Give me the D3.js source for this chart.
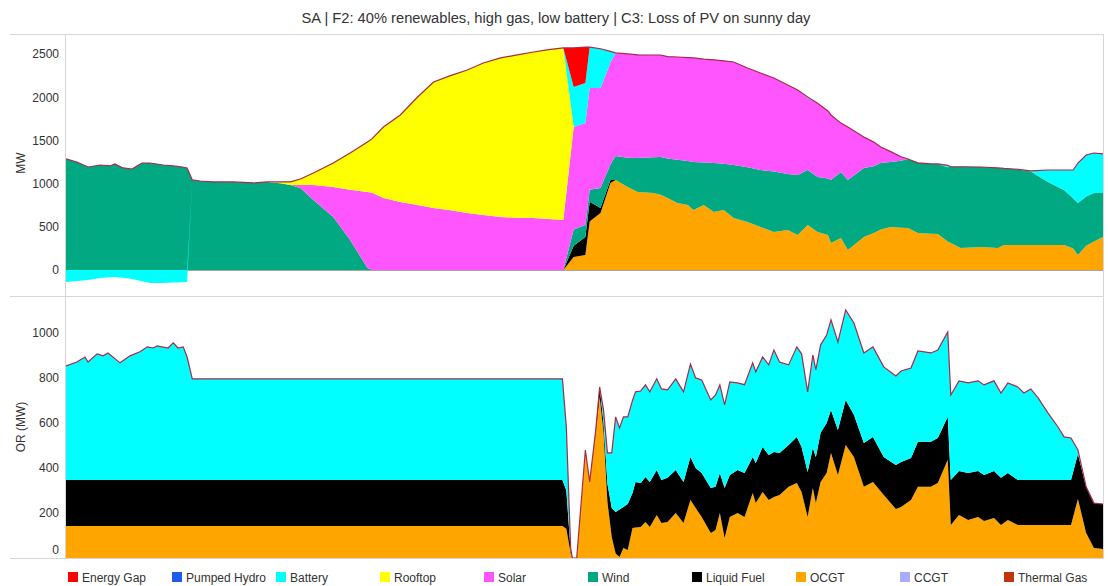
<!DOCTYPE html>
<html>
<head>
<meta charset="utf-8">
<script src="https://cdn.jsdelivr.net/npm/d3@7"></script>
<style>
  body { margin: 0; background: #fff; }
  text { font-family: Arial, "Liberation Sans", sans-serif; fill: #333; }
</style>
</head>
<body>
<svg id="chart" width="1108" height="586"></svg>
<script>
/************************************ Data *******************************/
// top panel : generation (MW), hours of the day
var hoursTop   = [0.00,0.25,0.51,0.79,1.02,1.13,1.32,1.53,1.64,1.76,1.94,2.25,2.48,2.69,2.80,2.92,3.10,3.40,3.87,4.33,4.65,4.95,5.19,5.42,5.72,6.18,6.57,6.97,7.08,7.34,7.73,8.13,8.50,8.89,9.28,9.65,10.05,10.44,10.81,11.16,11.50,11.74,12.01,12.11,12.36,12.59,12.71,12.99,13.22,13.59,13.75,13.91,14.14,14.38,14.51,14.75,14.98,15.21,15.44,15.76,16.06,16.37,16.69,16.92,17.15,17.38,17.62,17.69,17.92,18.08,18.45,18.68,18.84,19.07,19.31,19.47,19.70,20.00,20.16,20.39,20.46,20.69,21.16,21.55,21.69,21.92,22.31,22.71,23.08,23.29,23.40,23.59,23.77,23.98];
var ocgtTop    = [0,0,0,0,0,0,0,0,0,0,0,0,0,0,0,0,0,0,0,0,0,0,0,0,0,0,0,0,0,0,0,0,0,0,0,0,0,0,0,0,0,150,174,560,660,1007,1042,961,903,891,870,833,775,752,694,752,671,694,602,556,498,440,463,405,521,440,405,312,370,231,382,428,470,498,490,486,428,420,416,330,312,255,266,255,289,289,289,289,289,250,174,280,330,382];
var liquidTop  = [0,0,0,0,0,0,0,0,0,0,0,0,0,0,0,0,0,0,0,0,0,0,0,0,0,0,0,0,0,0,0,0,0,0,0,0,0,0,0,0,0,130,208,230,58,35,0,0,0,0,0,0,0,0,0,0,0,0,0,0,0,0,0,0,0,0,0,0,0,0,0,0,0,0,0,0,0,0,0,0,0,0,0,0,0,0,0,0,0,0,0,0,0,0];
var windTop    = [1285,1250,1192,1215,1204,1227,1181,1169,1204,1238,1238,1215,1204,1192,1181,1042,1030,1019,1019,1007,1019,1005,984,950,810,613,347,23,0,0,0,0,0,0,0,0,0,0,0,0,0,190,139,140,231,178,277,339,393,414,438,457,500,510,556,493,567,536,613,634,659,700,647,695,636,636,655,730,764,811,799,772,768,752,775,799,812,807,811,860,883,940,926,926,886,880,851,730,637,580,601,570,560,509];
var solarTop   = [0,0,0,0,0,0,0,0,0,0,0,0,0,0,0,0,0,0,0,0,0,0,0,34,174,347,583,880,895,833,787,752,718,690,660,635,613,605,602,590,579,1185,1179,1176,1157,1180,1193,1200,1194,1183,1180,1180,1190,1196,1204,1195,1194,1190,1192,1148,1123,1082,1030,983,830,854,780,752,566,613,358,280,186,120,45,0,0,0,0,0,0,0,0,0,0,0,0,0,0,0,0,0,0,0];
var rooftopTop = [0,0,0,0,0,0,0,0,0,0,0,0,0,0,0,0,0,0,0,0,0,14,36,69,139,278,424,578,625,822,1007,1250,1458,1560,1655,1761,1841,1885,1921,1960,1991,0,0,0,0,0,0,0,0,0,0,0,0,0,0,0,0,0,0,0,0,0,0,0,0,0,0,0,0,0,0,0,0,0,0,0,0,0,0,0,0,0,0,0,0,0,0,0,0,0,0,0,0,0];
var batteryTop = [-139,-128,-116,-93,-85,-81,-90,-104,-115,-130,-150,-150,-145,-142,-139,0,0,0,0,0,0,0,0,0,0,0,0,0,0,0,0,0,0,0,0,0,0,0,0,0,0,463,464,474,454,130,0,0,0,0,0,0,0,0,0,0,0,0,0,0,0,0,0,0,15,0,0,0,0,0,0,0,0,0,0,0,0,0,0,20,0,0,0,0,0,0,6,138,231,327,463,481,464,452];
var gapTop     = [0,0,0,0,0,0,0,0,0,0,0,0,0,0,0,0,0,0,0,0,0,0,0,0,0,0,0,0,0,0,0,0,0,0,0,0,0,0,0,0,0,452,416,0,0,0,0,0,0,0,0,0,0,0,0,0,0,0,0,0,0,0,0,0,0,0,0,0,0,0,0,0,0,0,0,0,0,0,0,0,0,0,0,0,0,0,0,0,0,0,0,0,0,0];

// bottom panel : operating reserve (MW)
var hoursOR   = [0.00,0.25,0.44,0.51,0.72,0.86,0.97,1.25,1.48,1.71,1.88,2.01,2.11,2.36,2.48,2.59,2.71,2.80,2.92,11.48,11.57,11.67,11.71,11.81,12.01,12.11,12.25,12.34,12.43,12.52,12.62,12.71,12.80,12.89,12.99,13.10,13.17,13.29,13.40,13.50,13.66,13.77,13.91,14.10,14.28,14.44,14.56,14.70,14.91,15.02,15.12,15.23,15.35,15.53,15.69,15.88,15.95,16.11,16.25,16.37,16.50,16.71,16.90,17.01,17.15,17.27,17.34,17.45,17.59,17.69,17.85,18.03,18.22,18.45,18.66,18.91,19.19,19.31,19.54,19.70,20.00,20.16,20.39,20.46,20.65,20.86,21.09,21.23,21.46,21.62,21.78,22.01,22.15,22.31,22.48,22.71,22.94,23.08,23.24,23.40,23.59,23.77,23.98];
var ocgtOR    = [142,142,142,142,142,142,142,142,142,142,142,142,142,142,142,142,142,142,142,142,130,20,0,0,480,338,560,716,560,250,93,20,4,44,36,133,135,138,160,138,191,156,160,200,156,258,222,182,111,124,200,89,182,200,182,289,244,293,258,271,280,316,333,293,182,311,244,338,378,467,369,502,449,316,338,280,218,227,258,316,316,333,436,147,191,169,182,164,178,147,169,147,147,147,147,147,147,147,147,262,111,44,40];
var liquidOR  = [205,205,205,205,205,205,205,205,205,205,205,205,205,205,205,205,205,205,205,205,170,10,0,0,0,0,9,44,40,80,129,184,211,183,204,156,203,195,200,200,200,191,196,191,182,191,178,196,200,192,178,222,187,191,196,160,178,200,200,200,187,186,205,200,200,178,205,218,222,191,200,200,187,195,200,169,195,200,186,200,200,200,191,200,196,209,205,205,209,209,209,200,200,200,200,200,200,200,200,200,205,200,200];
var batteryOR = [506,524,546,524,560,551,564,520,551,569,591,586,595,586,609,586,591,546,449,449,282,14,0,0,0,0,0,0,58,137,245,423,363,400,387,411,400,409,409,400,405,404,391,405,400,413,400,413,391,408,391,369,413,387,392,418,405,400,400,453,404,356,400,414,356,413,387,391,391,400,391,400,408,400,400,400,396,404,400,404,395,391,377,377,400,400,400,400,400,377,400,413,386,404,364,297,235,191,186,18,0,0,0];

var legendNames  = ["Energy Gap","Pumped Hydro","Battery","Rooftop","Solar","Wind","Liquid Fuel","OCGT","CCGT","Thermal Gas"];
var legendColors = ["#ff0000","#1f5bf0","#00ffff","#ffff00","#ff55ff","#00a982","#000000","#ffa500","#aaaaff","#c0360c"];

var tickTop = [0,500,1000,1500,2000,2500];
var tickOR  = [0,200,400,600,800,1000];

/************************************ Helpers *******************************/
// stacking : positives upward, negatives downward, zeros sit on the positive top
function offsetStackTop(series, order) {
	var n = series.length, m = series[order[0]].length;
	for (var j = 0; j < m; ++j) {
		var yp = 0, yn = 0;
		for (var i = 0; i < n; ++i) {
			var d = series[order[i]][j], dy = d[1] - d[0];
			if (dy > 0) { d[0] = yp; d[1] = yp += dy; }
			else if (dy < 0) { d[1] = yn; d[0] = yn += dy; }
			else { d[0] = yp; d[1] = yp; }
		}
	}
}

var colorOf = {};
legendNames.forEach(function(n, i) { colorOf[n] = legendColors[i]; });

var svg = d3.select("#chart");
var x = d3.scaleLinear().domain([0, 23.98]).range([66, 1103]);

function drawPanel(rows, keys, y, ticks, clipId, yTop, yBot, label) {
	svg.append("clipPath").attr("id", clipId)
		.append("rect").attr("x", 66).attr("y", yTop).attr("width", 1037).attr("height", yBot - yTop);

	var stack = d3.stack().keys(keys).order(d3.stackOrderNone).offset(offsetStackTop);
	var layers = stack(rows);

	var area = d3.area()
		.x(function(d) { return x(d.data.h); })
		.y0(function(d) { return y(d[0]); })
		.y1(function(d) { return y(d[1]); });

	var g = svg.append("g").attr("clip-path", "url(#" + clipId + ")");
	g.selectAll("path.layer").data(layers).enter().append("path")
		.attr("class", "layer")
		.attr("d", area)
		.attr("fill", function(d) { return colorOf[d.key]; });

	// total line (sum of the positive parts)
	var line = d3.line()
		.x(function(d) { return x(d.h); })
		.y(function(d) {
			var s = 0;
			keys.forEach(function(k) { if (d[k] > 0) s += d[k]; });
			return y(s);
		});
	g.append("path").datum(rows)
		.attr("d", line)
		.attr("fill", "none")
		.attr("stroke", "#a8294a")
		.attr("stroke-width", 1.2);

	var axis = svg.append("g").attr("transform", "translate(66,0)")
		.call(d3.axisLeft(y).tickValues(ticks).tickSize(0).tickPadding(7).tickFormat(d3.format("d")));
	axis.select(".domain").remove();
	axis.selectAll("text").attr("font-size", 12).attr("fill", "#333")
		.style("font-family", "Arial, 'Liberation Sans', sans-serif");

	svg.append("text")
		.attr("transform", "translate(25," + label.y + ") rotate(-90)")
		.attr("text-anchor", "middle")
		.attr("font-size", 12)
		.text(label.text);
	return axis;
}

/************************************ Frame *******************************/
[34, 296, 558].forEach(function(yy) {
	svg.append("line").attr("x1", 10).attr("x2", 1104).attr("y1", yy + 0.5).attr("y2", yy + 0.5)
		.attr("stroke", "#d6d6d6");
});
[66, 1104].forEach(function(xx) {
	svg.append("line").attr("x1", xx - 0.5).attr("x2", xx - 0.5).attr("y1", 34).attr("y2", 558)
		.attr("stroke", "#d6d6d6");
});

/************************************ Panels *******************************/
var rowsTop = hoursTop.map(function(h, i) {
	return { h: h, "OCGT": ocgtTop[i], "Liquid Fuel": liquidTop[i], "Wind": windTop[i],
		"Solar": solarTop[i], "Rooftop": rooftopTop[i], "Battery": batteryTop[i], "Energy Gap": gapTop[i] };
});
var rowsOR = hoursOR.map(function(h, i) {
	return { h: h, "OCGT": ocgtOR[i], "Liquid Fuel": liquidOR[i], "Battery": batteryOR[i] };
});

var yTop = d3.scaleLinear().domain([-301, 2731]).range([296, 34]);
var yOR  = d3.scaleLinear().domain([0, 1164]).range([558, 296]);

// zero line in top panel
svg.append("line").attr("x1", 66).attr("x2", 1103).attr("y1", yTop(0)).attr("y2", yTop(0))
	.attr("stroke", "#444").attr("stroke-width", 1);

drawPanel(rowsTop, ["OCGT","Liquid Fuel","Wind","Solar","Rooftop","Battery","Energy Gap"],
	yTop, tickTop, "clipTop", 34, 296, { text: "MW", y: 163 });
var axOR = drawPanel(rowsOR, ["OCGT","Liquid Fuel","Battery"],
	yOR, tickOR, "clipOR", 296, 558, { text: "OR (MW)", y: 427 });
// baseline label is lifted inside the plot
axOR.selectAll(".tick").filter(function(d) { return d === 0; })
	.attr("transform", "translate(0," + (yOR(0) - 8) + ")");

/************************************ Title & legend *******************************/
svg.append("text")
	.attr("x", 556).attr("y", 23)
	.attr("text-anchor", "middle")
	.attr("font-size", 14.7)
	.attr("fill", "#222")
	.text("SA | F2: 40% renewables, high gas, low battery | C3: Loss of PV on sunny day");

var leg = svg.append("g").selectAll("g").data(legendNames).enter().append("g")
	.attr("transform", function(d, i) { return "translate(" + (68 + i * 104) + ",572)"; });
leg.append("rect").attr("width", 10).attr("height", 10)
	.attr("fill", function(d, i) { return legendColors[i]; });
leg.append("text").attr("x", 14).attr("y", 9.5).attr("font-size", 12).attr("fill", "#222")
	.text(function(d) { return d; });
</script>
</body>
</html>
